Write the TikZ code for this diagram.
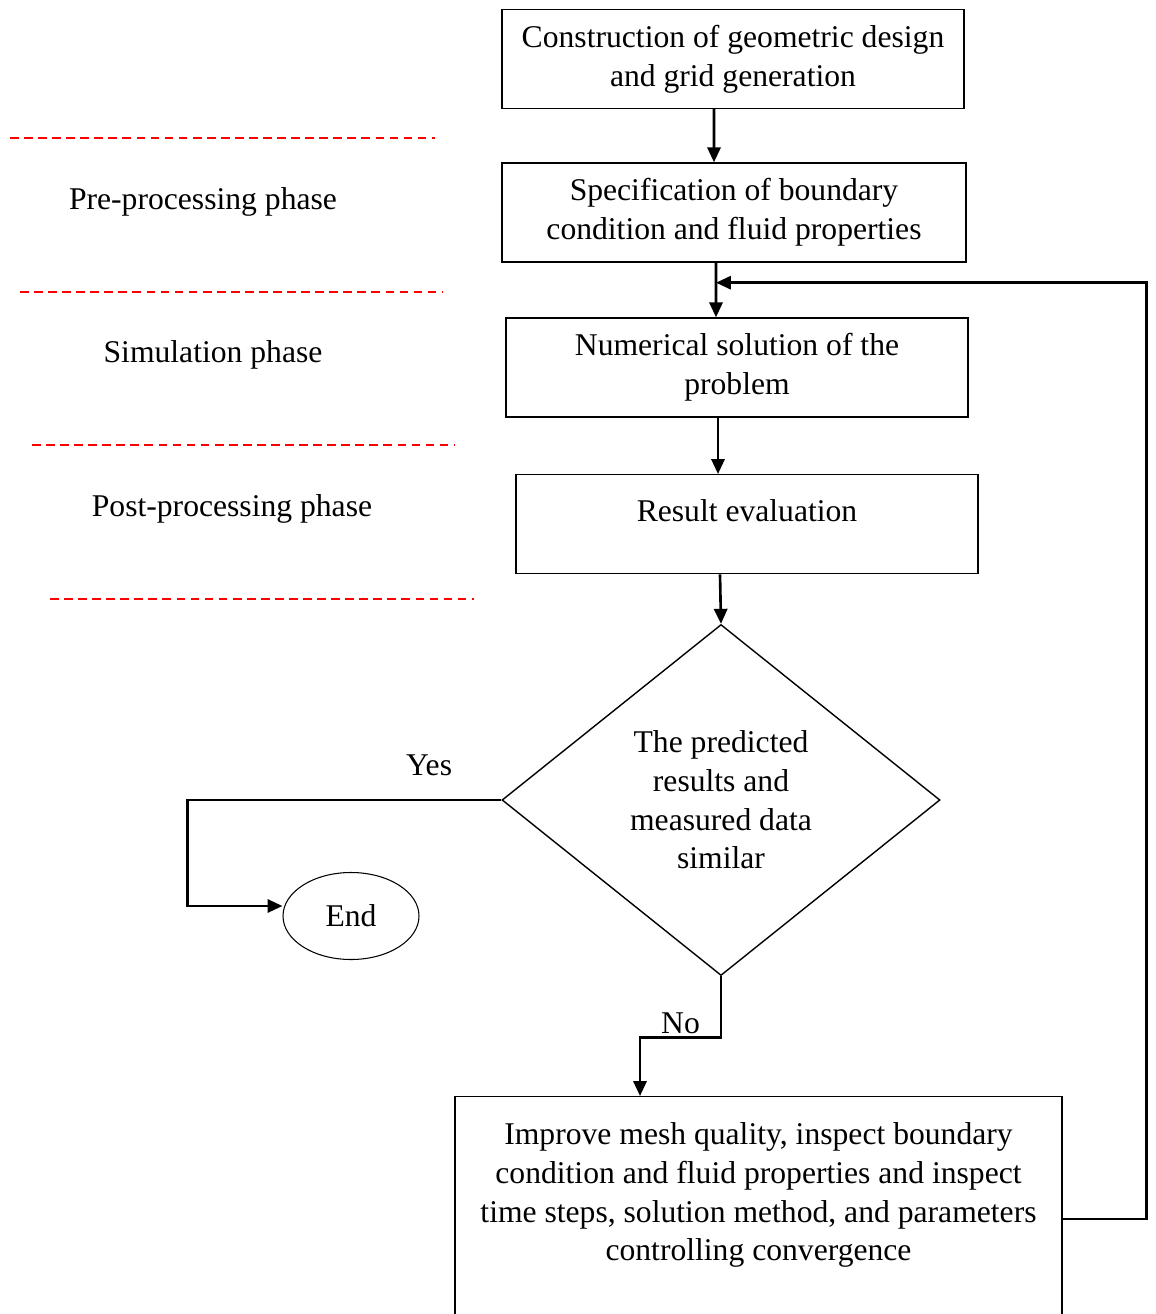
\documentclass[tikz,border=0pt]{standalone}
\usepackage{fontspec}
\setmainfont{Liberation Serif}
\usetikzlibrary{shapes.geometric,arrows.meta}
\tikzset{every picture/.style={line width=0.8pt}}

\begin{document}
\begin{tikzpicture}[>={Triangle[length=8.5pt,width=7.5pt]},
        every node/.style={font=\fontsize{18}{22}\selectfont},
        box/.style={draw, rectangle, align=center, minimum width=9.24cm, minimum height=1.98cm},
        flow/.style={->, line width=1.5pt},
        phaseline/.style={red, dash pattern=on 5pt off 3pt, line width=0.6pt}]
        \useasboundingbox (0,0) rectangle (23.1,-26.28);
        % etapas
        \node[box] (geom)  at (14.66,-1.18) {Construction of geometric design\\and grid generation};
        \node[box, minimum width=9.28cm] (bound) at (14.68,-4.25) {Specification of boundary\\condition and fluid properties};
        \node[box] (solve) at (14.74,-7.35) {Numerical solution of the\\problem};
        \node[box, anchor=north, inner ysep=0.1cm, text height=0.84cm, text depth=0.94cm] (eval) at (14.94,-9.48) {Result evaluation};
        \node[draw, diamond, align=center, inner sep=0pt, minimum width=8.76cm, minimum height=7.02cm] (check) at (14.42,-16.0)
            {The predicted\\results and\\measured data\\similar};
        \node[draw, ellipse, line width=0.6pt, minimum width=2.72cm, minimum height=1.74cm] (end) at (7.02,-18.32) {End};
        \node[box, anchor=north, minimum width=12.14cm, inner ysep=0.1cm, text height=3.18cm, text depth=1.3cm] (fix) at (15.17,-21.92)
            {Improve mesh quality, inspect boundary\\condition and fluid properties and inspect\\time steps, solution method, and parameters\\controlling convergence};
        % fases
        \node (pre)  at (4.06,-4.04)  {Pre-processing phase};
        \node (sim)  at (4.26,-7.10)  {Simulation phase};
        \node (post) at (4.64,-10.18) {Post-processing phase};
        \draw[phaseline] (0.2,-2.76)  -- (8.7,-2.76);
        \draw[phaseline] (0.4,-5.84)  -- (8.86,-5.84);
        \draw[phaseline] (0.64,-8.9)  -- (9.1,-8.9);
        \draw[phaseline] (1.0,-11.98) -- (9.48,-11.98);
        % setas
        \draw[flow] ([xshift=-0.38cm]geom.south)  -- ([xshift=-0.40cm]bound.north);
        \draw[flow] ([xshift=-0.36cm]bound.south) -- ([xshift=-0.42cm]solve.north);
        \draw[flow] ([xshift=-0.38cm]solve.south) -- ([xshift=-0.58cm]eval.north);
        \draw[flow] ([xshift=-0.54cm]eval.south)  -- (check.north);
        \draw[flow] (check.west) -- node[pos=0.23, above=0.35cm] {Yes} ++(-6.28,0) |- ([yshift=0.2cm]end.west);
        \draw[flow] (check.south) -- ++(0,-1.22) -| node[pos=0.25, above, inner sep=1pt] {No} ([xshift=-2.37cm]fix.north);
        % volta
        \draw[flow] ([yshift=-2.46cm]fix.north east) -- ++(1.68,0) |- ([xshift=-0.36cm, yshift=-0.4cm]bound.south);
\end{tikzpicture}
\end{document}
